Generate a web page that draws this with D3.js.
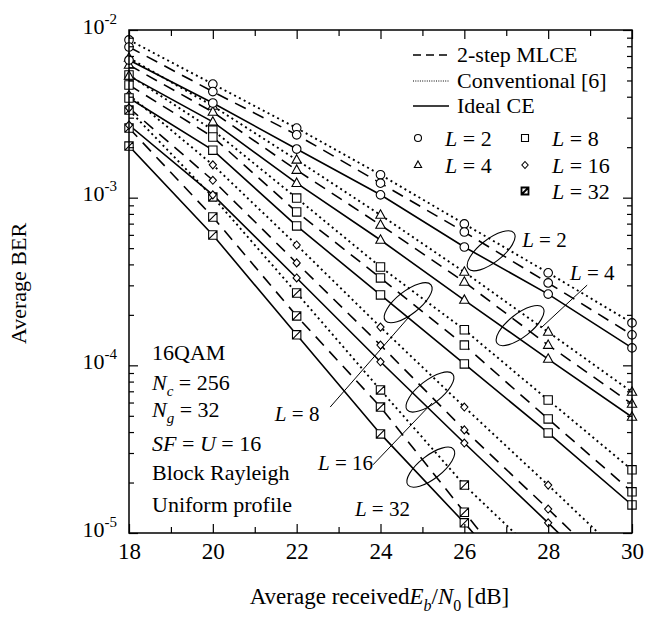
<!DOCTYPE html>
<html>
<head>
<meta charset="utf-8">
<script src="https://cdn.jsdelivr.net/npm/d3@7"></script>
<style>
  body { margin: 0; background: #fff; }
  svg text { font-family: "Liberation Serif", "Times New Roman", serif; fill: #000; }
</style>
</head>
<body>
<svg id="chart" width="646" height="628"></svg>
<script>
// Eb/N0 points (dB)
var snr = [18, 20, 22, 24, 26, 28, 30];
var orders = ["2", "4", "8", "16", "32"];

// BER per L (rows: L = 2, 4, 8, 16, 32)
var conventional = [
  [8.72e-3, 4.76e-3, 2.60e-3, 1.37e-3, 6.97e-4, 3.56e-4, 1.79e-4],
  [6.81e-3, 3.52e-3, 1.68e-3, 7.88e-4, 3.60e-4, 1.58e-4, 6.93e-5],
  [5.39e-3, 2.53e-3, 9.95e-4, 3.86e-4, 1.63e-4, 6.21e-5, 2.38e-5],
  [4.10e-3, 1.57e-3, 5.22e-4, 1.69e-4, 5.64e-5, 1.93e-5, 6.45e-6],
  [3.33e-3, 1.01e-3, 2.70e-4, 7.13e-5, 1.93e-5, 6.45e-6]
];
var mlce = [
  [7.92e-3, 4.29e-3, 2.37e-3, 1.22e-3, 6.24e-4, 3.10e-4, 1.52e-4],
  [6.18e-3, 3.24e-3, 1.46e-3, 6.87e-4, 3.14e-4, 1.32e-4, 5.88e-5],
  [4.70e-3, 2.30e-3, 8.22e-4, 3.32e-4, 1.32e-4, 4.79e-5, 1.76e-5],
  [3.43e-3, 1.27e-3, 4.08e-4, 1.32e-4, 4.12e-5, 1.39e-5, 4.57e-6],
  [2.60e-3, 7.67e-4, 1.97e-4, 5.64e-5, 1.33e-5, 3.20e-6]
];
var idealCE = [
  [6.62e-3, 3.67e-3, 1.95e-3, 1.04e-3, 5.08e-4, 2.66e-4, 1.27e-4],
  [5.32e-3, 2.83e-3, 1.22e-3, 5.59e-4, 2.45e-4, 1.09e-4, 4.92e-5],
  [3.93e-3, 1.92e-3, 6.78e-4, 2.63e-4, 1.02e-4, 3.95e-5, 1.47e-5],
  [2.71e-3, 1.04e-3, 3.32e-4, 1.05e-4, 3.44e-5, 1.15e-5, 3.72e-6],
  [2.03e-3, 5.99e-4, 1.52e-4, 3.90e-5, 1.15e-5, 3.07e-6]
];

var xMajor = [18, 20, 22, 24, 26, 28, 30];
var xMinor = [19, 21, 23, 25, 27, 29];
var yMajor = [1e-5, 1e-4, 1e-3, 1e-2];
var yExp = ["-5", "-4", "-3", "-2"];

var infoLines = ["16QAM", "Nc", "Ng", "SF", "Block Rayleigh", "Uniform profile"];

// ellipse annotations: x position (dB) of the ring, label anchor (dB, BER), optional leader
var notes = [
  {L: "2",  ex: 26.64, lx: 27.38, ly: 5.08e-4, leader: null},
  {L: "4",  ex: 27.33, lx: 28.52, ly: 3.23e-4, leader: [28.93, 3.01e-4, 27.85, 1.69e-4]},
  {L: "8",  ex: 24.66, lx: 21.48, ly: 4.66e-5, leader: [22.80, 5.64e-5, 24.70, 1.97e-4]},
  {L: "16", ex: 25.18, lx: 22.51, ly: 2.38e-5, leader: [23.82, 2.55e-5, 25.23, 5.96e-5]},
  {L: "32", ex: 25.20, lx: 23.39, ly: 1.26e-5, leader: null}
];

var svg = d3.select("#chart"),
  margin = {top: 30, right: 14, bottom: 95, left: 129},
  width = +svg.attr("width") - margin.left - margin.right,
  height = +svg.attr("height") - margin.top - margin.bottom;

var x = d3.scaleLinear().domain([18, 30]).range([0, width]);
var y = d3.scaleLog().domain([1e-5, 1e-2]).range([height, 0]);

var g = svg.append("g")
  .attr("transform", "translate(" + margin.left + "," + margin.top + ")");

svg.append("defs").append("clipPath")
  .attr("id", "clip")
  .append("rect")
  .attr("width", width)
  .attr("height", height);

var shapes = ["circle", "triangle", "square", "diamond", "squareSlash"];

function markerPath(shape, s) {
  var h = s / 2;
  if (shape === "circle") {
    return "M" + h + ",0A" + h + "," + h + " 0 1 1 " + (-h) + ",0A" + h + "," + h + " 0 1 1 " + h + ",0Z";
  } else if (shape === "triangle") {
    return "M0," + (-0.58 * s) + "L" + (0.52 * s) + "," + (0.36 * s) + "L" + (-0.52 * s) + "," + (0.36 * s) + "Z";
  } else if (shape === "diamond") {
    return "M0," + (-h) + "L" + (h * 0.9) + ",0L0," + h + "L" + (-h * 0.9) + ",0Z";
  } else if (shape === "squareSlash") {
    return "M" + (-h) + "," + (-h) + "H" + h + "V" + h + "H" + (-h) + "Z" +
      "M" + (-h) + "," + h + "L" + h + "," + (-h);
  }
  return "M" + (-h) + "," + (-h) + "H" + h + "V" + h + "H" + (-h) + "Z";
}

var markerSize = [8.6, 9, 8.4, 8, 8.4];

var methods = [
  {name: "Conventional [6]", values: conventional, dash: "2,3.4", width: 1.9},
  {name: "2-step MLCE", values: mlce, dash: "12,8", width: 1.6},
  {name: "Ideal CE", values: idealCE, dash: null, width: 1.6}
];

var line = d3.line()
  .x(function(d) { return x(d[0]); })
  .y(function(d) { return y(d[1]); });

// curves
var curves = g.append("g").attr("clip-path", "url(#clip)");
methods.forEach(function(m) {
  m.values.forEach(function(vals, i) {
    var pts = vals.map(function(v, j) { return [snr[j], v]; });
    curves.append("path")
      .datum(pts)
      .attr("d", line)
      .attr("fill", "none")
      .attr("stroke", "#000")
      .attr("stroke-width", m.width)
      .attr("stroke-dasharray", m.dash);
  });
});

// markers
var marks = g.append("g");
methods.forEach(function(m) {
  m.values.forEach(function(vals, i) {
    var pts = vals.map(function(v, j) { return [snr[j], v]; })
      .filter(function(d) { return d[1] >= 0.98e-5; });
    marks.selectAll(null)
      .data(pts)
      .enter()
      .append("path")
      .attr("transform", function(d) { return "translate(" + x(d[0]) + "," + y(d[1]) + ")"; })
      .attr("d", markerPath(shapes[i], markerSize[i]))
      .attr("fill", "#fff")
      .attr("stroke", "#000")
      .attr("stroke-width", 1.1);
  });
});

// axes
function axisGroup(axis, transform) {
  var a = g.append("g").attr("transform", transform).call(axis);
  a.select(".domain").remove();
  a.selectAll("line").attr("stroke", "#000").attr("stroke-width", 1.2);
  return a;
}

axisGroup(d3.axisBottom(x).tickValues(xMajor).tickSize(-9).tickSizeOuter(0).tickPadding(10)
  .tickFormat(d3.format("d")), "translate(0," + height + ")")
  .selectAll("text").style("font-size", "23px");
axisGroup(d3.axisBottom(x).tickValues(xMinor).tickSize(-6).tickSizeOuter(0).tickFormat(""),
  "translate(0," + height + ")");
axisGroup(d3.axisTop(x).tickValues(xMajor).tickSize(-9).tickSizeOuter(0).tickFormat(""), "translate(0,0)");
axisGroup(d3.axisTop(x).tickValues(xMinor).tickSize(-6).tickSizeOuter(0).tickFormat(""), "translate(0,0)");

var yMinor = [];
yMajor.slice(0, 3).forEach(function(p) {
  for (var k = 2; k <= 9; k++) yMinor.push(p * k);
});

var yLeft = axisGroup(d3.axisLeft(y).tickValues(yMajor).tickSize(-9).tickSizeOuter(0).tickPadding(12)
  .tickFormat(""), "translate(0,0)");
axisGroup(d3.axisLeft(y).tickValues(yMinor).tickSize(-5).tickSizeOuter(0).tickFormat(""), "translate(0,0)");
axisGroup(d3.axisRight(y).tickValues(yMajor).tickSize(-9).tickSizeOuter(0).tickFormat(""),
  "translate(" + width + ",0)");
axisGroup(d3.axisRight(y).tickValues(yMinor).tickSize(-5).tickSizeOuter(0).tickFormat(""),
  "translate(" + width + ",0)");

yLeft.selectAll(".tick text").each(function(d, i) {
  var t = d3.select(this)
    .attr("dy", null)
    .attr("x", -12)
    .attr("y", 3)
    .attr("text-anchor", "end")
    .style("font-size", "22px");
  t.append("tspan").text("10");
  t.append("tspan").attr("dy", -10).style("font-size", "15px").text(yExp[i]);
});

g.append("rect")
  .attr("width", width)
  .attr("height", height)
  .attr("fill", "none")
  .attr("stroke", "#000")
  .attr("stroke-width", 1.5);

// axis titles
svg.append("text")
  .attr("transform", "translate(26," + (margin.top + height / 2 + 2) + ") rotate(-90)")
  .attr("text-anchor", "middle")
  .style("font-size", "22px")
  .text("Average BER");

var xt = svg.append("text")
  .attr("x", margin.left + width / 2 - 1)
  .attr("y", 604)
  .attr("text-anchor", "middle")
  .style("font-size", "23px");
xt.append("tspan").text("Average received");
xt.append("tspan").style("font-style", "italic").text("E");
xt.append("tspan").attr("dy", 7).style("font-size", "16px").style("font-style", "italic").text("b");
xt.append("tspan").attr("dy", -7).text("/");
xt.append("tspan").style("font-style", "italic").text("N");
xt.append("tspan").attr("dy", 7).style("font-size", "16px").text("0");
xt.append("tspan").attr("dy", -7).text(" [dB]");

// info block
var infoBase = [360, 390, 417, 451, 480, 512];
infoLines.forEach(function(s, i) {
  var t = svg.append("text")
    .attr("x", 152)
    .attr("y", infoBase[i])
    .style("font-size", "22px");
  if (s === "Nc" || s === "Ng") {
    t.append("tspan").style("font-style", "italic").text("N");
    t.append("tspan").attr("dy", 6).style("font-size", "15px").style("font-style", "italic").text(s.charAt(1));
    t.append("tspan").attr("dy", -6).text(s === "Nc" ? " = 256" : " = 32");
  } else if (s === "SF") {
    t.append("tspan").style("font-style", "italic").text("SF");
    t.append("tspan").text(" = ");
    t.append("tspan").style("font-style", "italic").text("U");
    t.append("tspan").text(" = 16");
  } else {
    t.text(s);
  }
});

// legend
var legend = svg.append("g");
var legendRows = [
  {name: "2-step MLCE", dash: "8,5", width: 1.4, y: 62},
  {name: "Conventional [6]", dash: "1,1.3", width: 1, y: 88},
  {name: "Ideal CE", dash: null, width: 1.5, y: 113}
];
legendRows.forEach(function(r) {
  legend.append("line")
    .attr("x1", 413).attr("x2", 449)
    .attr("y1", r.y - 7).attr("y2", r.y - 7)
    .attr("stroke", "#000")
    .attr("stroke-width", r.width)
    .attr("stroke-dasharray", r.dash);
  legend.append("text")
    .attr("x", 457).attr("y", r.y)
    .style("font-size", "22px")
    .text(r.name);
});

var legendPos = [[418, 146], [418, 173], [525, 146], [525, 173], [525, 199]];
orders.forEach(function(L, i) {
  var p = legendPos[i];
  legend.append("path")
    .attr("transform", "translate(" + p[0] + "," + (p[1] - 8) + ")")
    .attr("d", markerPath(shapes[i], 7))
    .attr("fill", "#fff")
    .attr("stroke", "#000")
    .attr("stroke-width", i === 4 ? 1.8 : 1.1);
  var t = legend.append("text")
    .attr("x", p[0] + 27).attr("y", p[1])
    .style("font-size", "22px");
  t.append("tspan").style("font-style", "italic").text("L");
  t.append("tspan").text(" = " + L);
});

// ellipse annotations
function logAt(vals, ex) {
  var j = Math.min(Math.floor((ex - snr[0]) / 2), vals.length - 2);
  var f = (ex - snr[j]) / (snr[j + 1] - snr[j]);
  return Math.log10(vals[j]) * (1 - f) + Math.log10(vals[j + 1]) * f;
}

var ann = g.append("g");
notes.forEach(function(n) {
  var i = orders.indexOf(n.L);
  var cy = Math.pow(10, (logAt(conventional[i], n.ex) + logAt(idealCE[i], n.ex)) / 2);
  ann.append("ellipse")
    .attr("transform", "translate(" + x(n.ex) + "," + y(cy) + ") rotate(-38)")
    .attr("rx", 29)
    .attr("ry", 11.5)
    .attr("fill", "none")
    .attr("stroke", "#000")
    .attr("stroke-width", 1.1);
  if (n.leader) {
    ann.append("line")
      .attr("x1", x(n.leader[0])).attr("y1", y(n.leader[1]))
      .attr("x2", x(n.leader[2])).attr("y2", y(n.leader[3]))
      .attr("stroke", "#000")
      .attr("stroke-width", 1);
  }
  var t = ann.append("text")
    .attr("x", x(n.lx)).attr("y", y(n.ly))
    .style("font-size", "21px");
  t.append("tspan").style("font-style", "italic").text("L");
  t.append("tspan").text(" = " + n.L);
});
</script>
</body>
</html>
